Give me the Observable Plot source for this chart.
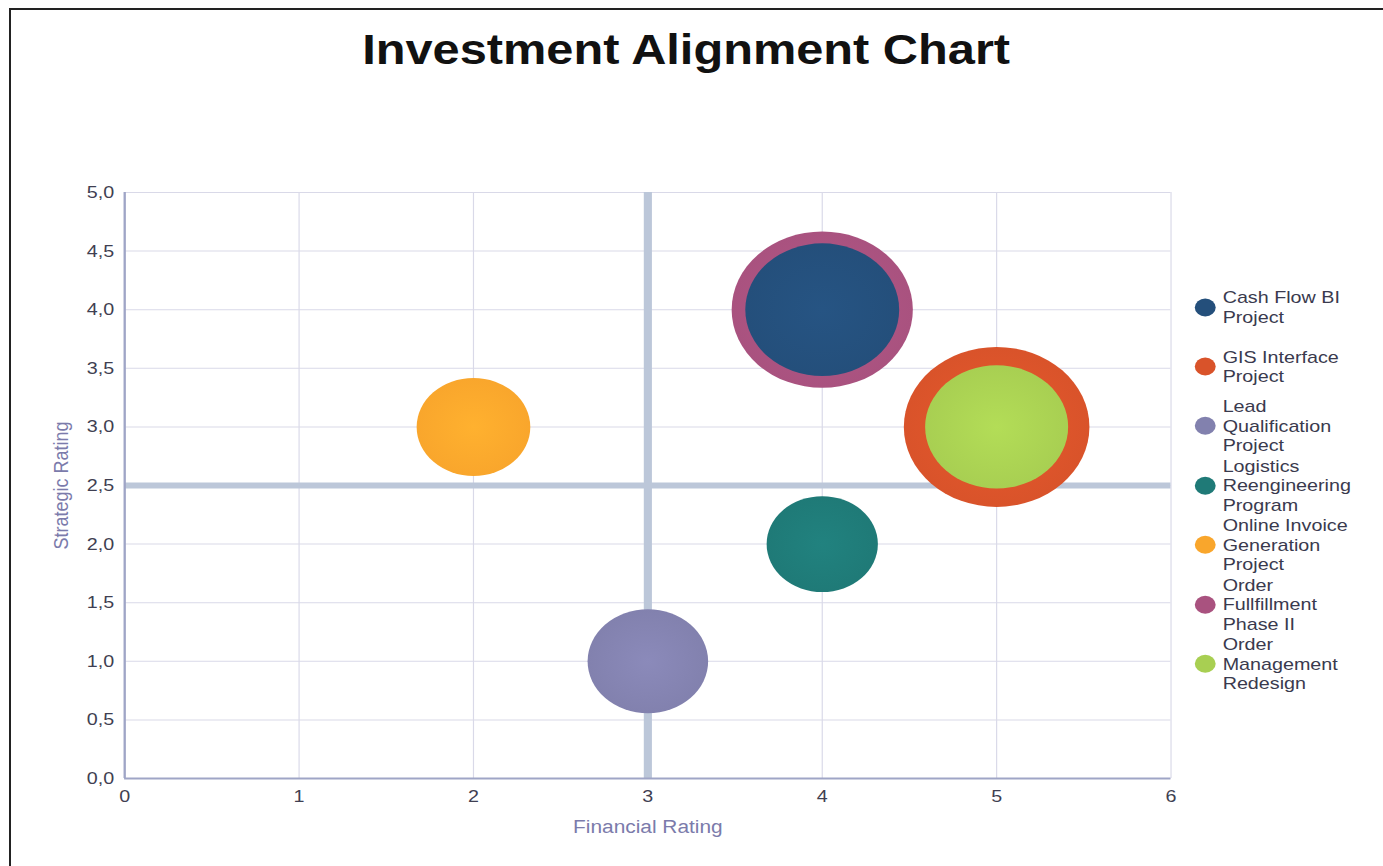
<!DOCTYPE html>
<html>
<head>
<meta charset="utf-8">
<script src="https://cdn.jsdelivr.net/npm/d3@7"></script>
<script src="https://cdn.jsdelivr.net/npm/@observablehq/plot@0.6"></script>
<style>
  html, body { margin: 0; padding: 0; background: #fff; overflow: hidden; }
  body { width: 1383px; height: 866px; position: relative; font-family: "Liberation Sans", Arial, sans-serif; }
  #frame { position: absolute; left: 9px; top: 8px; width: 1400px; height: 900px; border-left: 2px solid #222; border-top: 2px solid #222; }
  #wrap { position: absolute; left: 0; top: 0; width: 1192px; height: 866px; transform: scaleX(1.16); transform-origin: 0 0; }
  #title { position: absolute; left: 0; top: 29px; width: 1183px; text-align: center; font-size: 42px; line-height: 42px; font-weight: bold; color: #111; }
  #chart { position: absolute; left: 0; top: 0; }
  .item { position: absolute; left: 1030px; display: flex; align-items: center; transform: translateY(-50%); }
  .sw { width: 18px; height: 18px; border-radius: 50%; flex: none; }
  .lab { margin-left: 6px; width: 125px; font-size: 17px; line-height: 19.5px; color: #3a3a4e; }
</style>
</head>
<body>
<div id="frame"></div>
<div id="wrap">
  <div id="title">Investment Alignment Chart</div>
  <div id="chart"></div>
  <div id="legend"></div>
</div>
<script>
// ---- data ----
const projects = ["Cash Flow BI Project", "GIS Interface Project", "Lead Qualification Project", "Logistics Reengineering Program", "Online Invoice Generation Project", "Order Fullfillment Phase II", "Order Management Redesign"];
const financial = [4, 5, 3, 4, 2, 4, 5];
const strategic = [4, 3, 1, 2, 3, 4, 3];
const investment = [44, 64, 27, 23, 24, 61, 38];
const colors = ["#244f7b", "#d9532a", "#8281ae", "#1f7a77", "#f9a62c", "#a9527f", "#a8cf52"];
const xTicks = [0, 1, 2, 3, 4, 5, 6];
const yTicks = [0, 0.5, 1, 1.5, 2, 2.5, 3, 3.5, 4, 4.5, 5];
const refX = [3];
const refY = [2.5];
const xLabel = "Financial Rating";
const yLabel = "Strategic Rating";

const data = projects.map((name, i) => ({name, financial: financial[i], strategic: strategic[i], investment: investment[i]}));
const gradIds = colors.map((c, i) => `url(#bub${i})`);

const chart = Plot.plot({
  width: 1192,
  height: 866,
  marginLeft: 107,
  marginRight: 183,
  marginTop: 192,
  marginBottom: 88,
  x: {domain: [0, 6]},
  y: {domain: [0, 5]},
  r: {type: "sqrt", domain: [0, 64], range: [0, 80]},
  color: {domain: projects, range: gradIds},
  style: {fontFamily: "'Liberation Sans', Arial, sans-serif", background: "transparent", overflow: "visible"},
  marks: [
    Plot.gridX(xTicks, {stroke: "#d9d9e8", strokeOpacity: 1, strokeWidth: 1}),
    Plot.gridY(yTicks, {stroke: "#d9d9e8", strokeOpacity: 1, strokeWidth: 1}),
    Plot.ruleX(refX, {stroke: "#bcc7d9", strokeWidth: 7}),
    Plot.ruleY(refY, {stroke: "#bcc7d9", strokeWidth: 6}),
    Plot.ruleX([0], {stroke: "#9fa5c6", strokeWidth: 2}),
    Plot.ruleY([0], {stroke: "#9fa5c6", strokeWidth: 2}),
    Plot.axisX(xTicks, {tickSize: 0, tickPadding: 11, fontSize: 17, color: "#3f3f52", label: null, tickFormat: d => String(d)}),
    Plot.axisY(yTicks, {tickSize: 0, tickPadding: 9, fontSize: 17, color: "#3f3f52", label: null, tickFormat: d => d.toFixed(1).replace(".", ",")}),
    Plot.dot(data, {x: "financial", y: "strategic", r: "investment", fill: "name", stroke: "none"}),
    Plot.text([xLabel], {text: d => d, frameAnchor: "bottom", dy: 54, fontSize: 18, fill: "#7b7bab"}),
    Plot.text([yLabel], {text: d => d, frameAnchor: "left", textAnchor: "middle", dx: -55, rotate: -90, fontSize: 18, fill: "#7b7bab"})
  ]
});

// subtle radial gradients for bubbles
const defs = d3.select(chart).insert("defs", ":first-child");
colors.forEach((c, i) => {
  const g = defs.append("radialGradient").attr("id", `bub${i}`).attr("cx", "50%").attr("cy", "50%").attr("r", "50%");
  g.append("stop").attr("offset", "0%").attr("stop-color", d3.color(c).brighter(0.18).formatHex());
  g.append("stop").attr("offset", "100%").attr("stop-color", c);
});
document.getElementById("chart").appendChild(chart);

// legend
const legend = document.getElementById("legend");
projects.forEach((name, i) => {
  const item = document.createElement("div");
  item.className = "item";
  item.style.top = (307 + 59.5 * i) + "px";
  const sw = document.createElement("span");
  sw.className = "sw";
  sw.style.background = colors[i];
  const lab = document.createElement("span");
  lab.className = "lab";
  lab.textContent = name;
  item.appendChild(sw);
  item.appendChild(lab);
  legend.appendChild(item);
});
</script>
</body>
</html>
